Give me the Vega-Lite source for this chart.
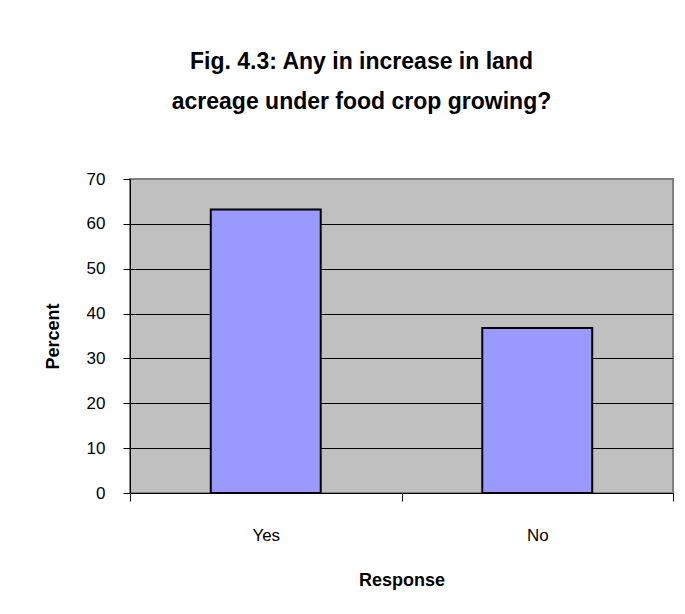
{
  "$schema": "https://vega.github.io/schema/vega-lite/v6.json",
  "autosize": {"type": "none"},
  "width": 543,
  "height": 314,
  "padding": {"left": 130, "top": 179, "right": 12, "bottom": 121},
  "background": "white",
  "title": {
    "text": ["Fig. 4.3: Any in increase in land", "acreage under food crop growing?"],
    "font": "Liberation Sans",
    "fontSize": 23,
    "fontWeight": "bold",
    "lineHeight": 40,
    "color": "black",
    "anchor": "middle",
    "frame": "group",
    "dx": -40,
    "offset": 56
  },
  "data": {
    "values": [
      {"Response": "Yes", "Percent": 63.2},
      {"Response": "No", "Percent": 36.8}
    ]
  },
  "mark": {
    "type": "bar",
    "fill": "#9999FF",
    "stroke": "black",
    "strokeWidth": 2,
    "width": {"band": 0.405}
  },
  "encoding": {
    "x": {
      "field": "Response",
      "type": "nominal",
      "sort": ["Yes", "No"],
      "title": "Response",
      "scale": {"paddingInner": 0, "paddingOuter": 0},
      "axis": {
        "labelAngle": 0,
        "tickBand": "extent",
        "grid": false,
        "tickSize": 8,
        "labelPadding": 26,
        "titlePadding": 28
      }
    },
    "y": {
      "field": "Percent",
      "type": "quantitative",
      "title": "Percent",
      "scale": {"domain": [0, 70], "nice": false},
      "axis": {
        "values": [0, 10, 20, 30, 40, 50, 60, 70],
        "grid": true,
        "gridColor": {"condition": {"test": "datum.value === 70", "value": "#808080"}, "value": "black"},
        "gridOpacity": 1,
        "gridWidth": 1,
        "tickSize": 7,
        "labelPadding": 18,
        "titleX": -68
      }
    }
  },
  "config": {
    "view": {"fill": "#C0C0C0", "stroke": "#808080", "strokeWidth": 2},
    "axis": {
      "domainColor": "black",
      "domainWidth": 1,
      "tickColor": "black",
      "labelFont": "Liberation Sans",
      "labelFontSize": 17,
      "labelColor": "black",
      "titleFont": "Liberation Sans",
      "titleFontSize": 18,
      "titleFontWeight": "bold",
      "titleColor": "black"
    }
  }
}
